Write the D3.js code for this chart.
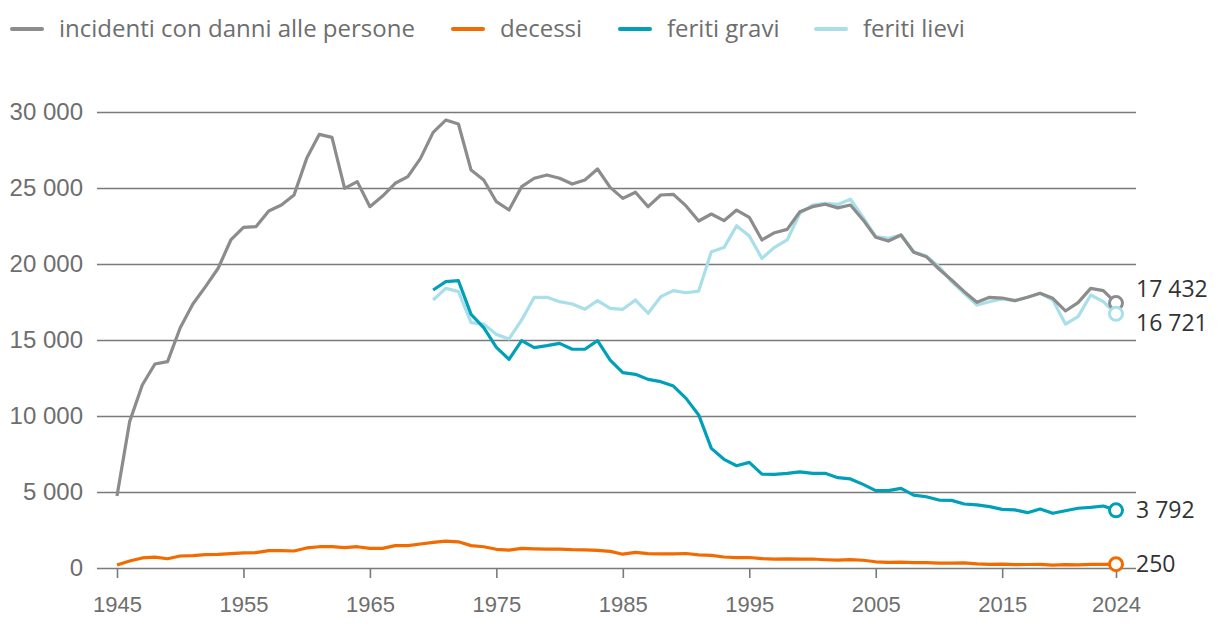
<!DOCTYPE html>
<html lang="it">
<head>
<meta charset="UTF-8">
<title>Incidenti stradali</title>
<script src="https://cdn.jsdelivr.net/npm/d3@7"></script>
<style>
  body { margin: 0; background: #fff; }
  svg { display: block; font-family: "Open Sans", "Noto Sans", sans-serif; }
</style>
</head>
<body>
<script>
// anni e serie
var years = d3.range(1945, 2025);

var incidenti = [4740, 9630, 12040, 13420, 13580, 15810, 17370, 18510, 19720, 21580,
  22410, 22460, 23490, 23880, 24540, 26950, 28530, 28330, 24980, 25420,
  23770, 24470, 25310, 25750, 26950, 28660, 29470, 29210, 26180, 25530,
  24100, 23550, 25090, 25640, 25860, 25640, 25260, 25530, 26250, 25040,
  24320, 24720, 23770, 24540, 24580, 23820, 22830, 23290, 22850, 23550,
  23070, 21580, 22060, 22280, 23440, 23770, 23930, 23690, 23880, 22900,
  21760, 21510, 21910, 20770, 20480, 19670, 18950, 18180, 17480, 17810,
  17760, 17590, 17810, 18070, 17740, 16910, 17460, 18400, 18250, 17432];

var decessi = [200, 460, 660, 720, 610, 790, 810, 880, 900, 940,
  990, 1010, 1140, 1140, 1120, 1320, 1400, 1400, 1340, 1400,
  1290, 1290, 1470, 1470, 1580, 1690, 1773, 1722, 1470, 1400,
  1230, 1180, 1290, 1261, 1238, 1246, 1206, 1192, 1155, 1097,
  908, 1026, 944, 932, 925, 954, 860, 834, 723, 679,
  692, 616, 587, 597, 583, 592, 544, 513, 546, 510,
  409, 370, 384, 357, 349, 327, 320, 339, 269, 243,
  253, 216, 230, 233, 187, 227, 200, 241, 236, 250];

// feriti registrati dal 1970
var feritiGravi = [18290, 18840, 18900, 16690, 15810, 14520, 13730, 14960, 14500, 14630,
  14780, 14390, 14390, 14960, 13680, 12850, 12740, 12410, 12260, 11970,
  11160, 10070, 7870, 7150, 6730, 6950, 6180, 6160, 6230, 6320,
  6230, 6230, 5940, 5860, 5500, 5090, 5090, 5240, 4800, 4690,
  4470, 4450, 4210, 4150, 4040, 3860, 3820, 3640, 3880, 3600,
  3770, 3930, 3990, 4080, 3792];

var feritiLievi = [17630, 18400, 18180, 16140, 16050, 15370, 15070, 16320, 17810, 17810,
  17520, 17370, 17020, 17590, 17080, 17020, 17630, 16760, 17850, 18250,
  18110, 18220, 20810, 21080, 22520, 21840, 20370, 21100, 21580, 23330,
  23880, 23990, 23920, 24260, 23070, 21800, 21690, 21910, 20810, 20530,
  19830, 18840, 18070, 17300, 17520, 17700, 17590, 17810, 18070, 17630,
  16050, 16540, 17960, 17520, 16721];

var yTicks = [0, 5000, 10000, 15000, 20000, 25000, 30000];
var xTicks = [1945, 1955, 1965, 1975, 1985, 1995, 2005, 2015, 2024];

var seriesNames = ['incidenti con danni alle persone', 'decessi', 'feriti gravi', 'feriti lievi'];
var colors = ['#8c8c8c', '#f26b00', '#00a0b8', '#a8dfe8'];

var width = 1220, height = 636;

var series = [
  { name: seriesNames[0], color: colors[0], values: incidenti.map(function(v, i) { return [years[i], v]; }) },
  { name: seriesNames[1], color: colors[1], values: decessi.map(function(v, i) { return [years[i], v]; }) },
  { name: seriesNames[2], color: colors[2], values: feritiGravi.map(function(v, i) { return [1970 + i, v]; }) },
  { name: seriesNames[3], color: colors[3], values: feritiLievi.map(function(v, i) { return [1970 + i, v]; }) }
];

var svg = d3.select('body').append('svg')
  .attr('width', width)
  .attr('height', height);

var x = d3.scaleLinear().domain([1945, 2024]).range([117, 1116]);
var y = d3.scaleLinear().domain([0, 30000]).range([568, 112]);

var fmt = d3.formatLocale({ decimal: ',', thousands: '\u00a0', grouping: [3], currency: ['', ''] }).format(',d');

// griglia + asse y
var yAxis = d3.axisLeft(y).tickValues(yTicks).tickSize(-(1136 - 97)).tickFormat(fmt);
var gy = svg.append('g').attr('transform', 'translate(97,0)').call(yAxis);
gy.select('.domain').remove();
gy.selectAll('.tick line').attr('stroke', '#7a7a7a').attr('stroke-width', 1.6);
gy.selectAll('.tick text').attr('fill', '#6e6e6e').style('font-size', '24px').attr('x', -14);

// asse x
var xAxis = d3.axisBottom(x).tickValues(xTicks).tickFormat(d3.format('d')).tickSize(10).tickPadding(18);
var gx = svg.append('g').attr('transform', 'translate(0,568)').call(xAxis);
gx.select('.domain').remove();
gx.selectAll('.tick line').attr('stroke', '#7a7a7a').attr('stroke-width', 1.6);
gx.selectAll('.tick text').attr('fill', '#6e6e6e').style('font-size', '22px');

var line = d3.line()
  .x(function(d) { return x(d[0]); })
  .y(function(d) { return y(d[1]); });

// disegno prima i feriti lievi, poi il resto sopra
var order = [3, 2, 1, 0];
svg.append('g').selectAll('path')
  .data(order.map(function(i) { return series[i]; }))
  .enter().append('path')
  .attr('d', function(d) { return line(d.values); })
  .attr('fill', 'none')
  .attr('stroke', function(d) { return d.color; })
  .attr('stroke-width', 3.2)
  .attr('stroke-linejoin', 'round');

// marcatori finali
var endLabelShift = [-14, 0, 0, 9];
series.forEach(function(s, i) {
  var last = s.values[s.values.length - 1];
  svg.append('circle')
    .attr('cx', x(last[0]))
    .attr('cy', y(last[1]))
    .attr('r', 6.5)
    .attr('fill', '#fff')
    .attr('stroke', s.color)
    .attr('stroke-width', 3);
  svg.append('text')
    .attr('x', 1136)
    .attr('y', y(last[1]) + endLabelShift[i])
    .attr('dy', '0.35em')
    .attr('fill', '#333')
    .style('font-size', '23px')
    .text(fmt(last[1]));
});

// legenda
var legendX = [12, 453, 620, 816];
var lg = svg.append('g').selectAll('g')
  .data(series)
  .enter().append('g')
  .attr('transform', function(d, i) { return 'translate(' + legendX[i] + ',29)'; });
lg.append('line')
  .attr('x1', 0).attr('x2', 30)
  .attr('stroke', function(d) { return d.color; })
  .attr('stroke-width', 4)
  .attr('stroke-linecap', 'round');
lg.append('text')
  .attr('x', 47)
  .attr('dy', '0.35em')
  .attr('fill', '#6e6e6e')
  .style('font-size', '24px')
  .text(function(d) { return d.name; });
</script>
</body>
</html>
